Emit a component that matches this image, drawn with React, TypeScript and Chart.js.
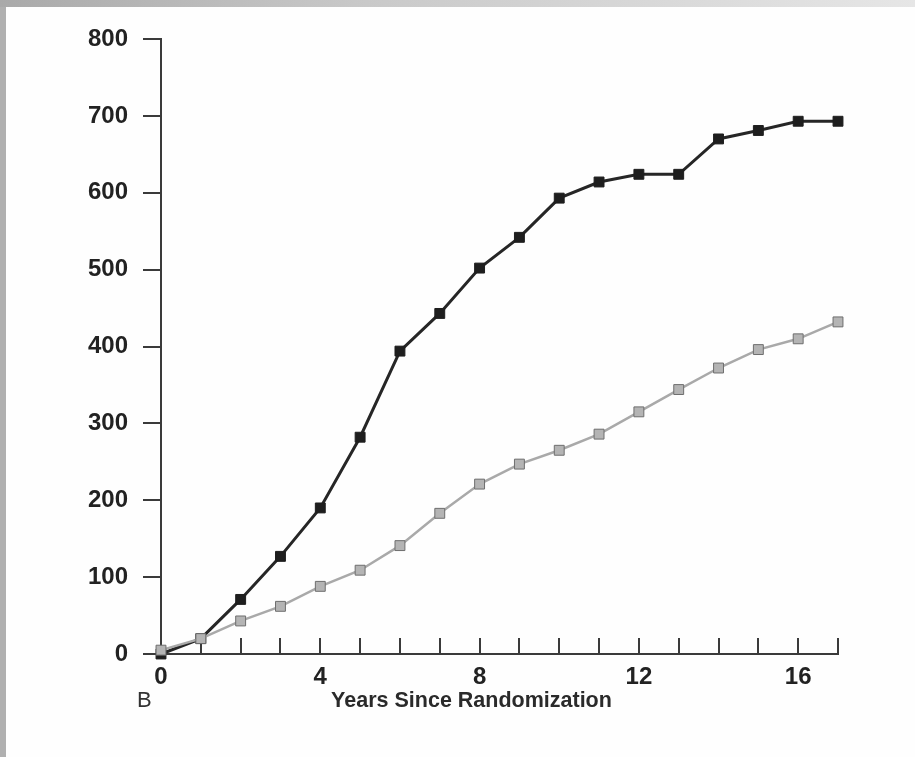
import React, { useEffect, useRef } from 'react';
import { Chart, registerables } from 'chart.js';

Chart.register(...registerables);

const years = [0, 1, 2, 3, 4, 5, 6, 7, 8, 9, 10, 11, 12, 13, 14, 15, 16, 17];
const blackSeries = [0, 20, 71, 127, 190, 282, 394, 443, 502, 542, 593, 614, 624, 624, 670, 681, 693, 693];
const graySeries = [5, 20, 43, 62, 88, 109, 141, 183, 221, 247, 265, 286, 315, 344, 372, 396, 410, 432];
const yTickValues = [0, 100, 200, 300, 400, 500, 600, 700, 800];
const xLabelYears = [0, 4, 8, 12, 16];
const xTitle = 'Years Since Randomization';
const panelLabel = 'B';

const FONT = '"Liberation Sans", Arial, sans-serif';

export default function App() {
  const ref = useRef<HTMLCanvasElement | null>(null);

  useEffect(() => {
    const canvas = ref.current;
    if (!canvas) return;

    const decorations = {
      id: 'decorations',
      beforeDatasetsDraw(chart: any) {
        const { ctx } = chart;
        const xs = chart.scales.x;
        const ys = chart.scales.y;
        const y0 = ys.getPixelForValue(0);
        ctx.save();
        ctx.strokeStyle = '#3a3a3a';
        ctx.lineWidth = 2;
        years.forEach((v) => {
          const px = Math.round(xs.getPixelForValue(v));
          ctx.beginPath();
          ctx.moveTo(px, y0);
          ctx.lineTo(px, y0 - 16);
          ctx.stroke();
        });
        ctx.restore();
      },
      afterDraw(chart: any) {
        const { ctx, chartArea } = chart;
        ctx.save();
        ctx.fillStyle = '#2a2a2a';
        ctx.textBaseline = 'middle';
        ctx.textAlign = 'center';
        ctx.font = `bold 21.5px ${FONT}`;
        const cx = (chartArea.left + chartArea.right) / 2 - 28;
        ctx.fillText(xTitle, cx, 701);
        ctx.font = `22px ${FONT}`;
        ctx.fillStyle = '#333';
        ctx.textAlign = 'left';
        ctx.fillText(panelLabel, 137, 701);
        ctx.restore();
      },
    };

    const chart = new Chart(canvas, {
      type: 'line',
      data: {
        datasets: [
          {
            label: 'Gray',
            data: years.map((x, i) => ({ x, y: graySeries[i] })),
            borderColor: '#a9a9a9',
            borderWidth: 2.5,
            pointStyle: 'rect',
            pointRadius: 7,
            pointBackgroundColor: '#b4b4b4',
            pointBorderColor: '#6e6e6e',
            pointBorderWidth: 1,
            tension: 0,
            clip: false,
          },
          {
            label: 'Black',
            data: years.map((x, i) => ({ x, y: blackSeries[i] })),
            borderColor: '#262626',
            borderWidth: 3,
            pointStyle: 'rect',
            pointRadius: 7,
            pointBackgroundColor: '#1e1e1e',
            pointBorderColor: '#1e1e1e',
            pointBorderWidth: 1,
            tension: 0,
            clip: false,
          },
        ],
      },
      options: {
        responsive: false,
        animation: false,
        events: [],
        layout: { padding: { top: 39, right: 77, bottom: 0, left: 0 } },
        plugins: {
          legend: { display: false },
          tooltip: { enabled: false },
          title: { display: false },
        },
        scales: {
          x: {
            type: 'linear',
            min: 0,
            max: 17,
            afterFit(scale: any) {
              scale.height = 103;
            },
            afterBuildTicks(scale: any) {
              scale.ticks = years.map((v) => ({ value: v }));
            },
            grid: { display: false, drawTicks: false },
            border: { display: true, color: '#3a3a3a', width: 2 },
            ticks: {
              autoSkip: false,
              maxRotation: 0,
              padding: 9,
              color: '#222',
              font: { family: FONT, size: 24, weight: 'bold' },
              callback: (v: any) => (xLabelYears.includes(Number(v)) ? String(v) : ''),
            },
          },
          y: {
            min: 0,
            max: 800,
            afterFit(scale: any) {
              scale.width = 161;
            },
            afterBuildTicks(scale: any) {
              scale.ticks = yTickValues.map((v) => ({ value: v }));
            },
            grid: {
              display: true,
              drawOnChartArea: false,
              drawTicks: true,
              tickLength: 18,
              color: '#3a3a3a',
              lineWidth: 2,
            },
            border: { display: true, color: '#3a3a3a', width: 2 },
            ticks: {
              padding: 15,
              color: '#222',
              font: { family: FONT, size: 24, weight: 'bold' },
            },
          },
        },
      },
      plugins: [decorations],
    } as any);

    return () => chart.destroy();
  }, []);

  return (
    <div
      style={{
        position: 'fixed',
        left: 0,
        top: 0,
        width: 915,
        height: 757,
        background: 'linear-gradient(90deg, #a9a9a9 0%, #c9c9c9 40%, #e6e6e6 100%)',
        overflow: 'hidden',
      }}
    >
      <div
        style={{
          position: 'absolute',
          left: 6,
          top: 7,
          right: 0,
          bottom: 0,
          background: '#fefefe',
        }}
      />
      <div
        style={{
          position: 'absolute',
          left: 0,
          top: 7,
          width: 6,
          bottom: 0,
          background: '#b0b0b0',
        }}
      />
      <canvas
        ref={ref}
        width={915}
        height={757}
        style={{ position: 'absolute', left: 0, top: 0, width: 915, height: 757 }}
      />
    </div>
  );
}
